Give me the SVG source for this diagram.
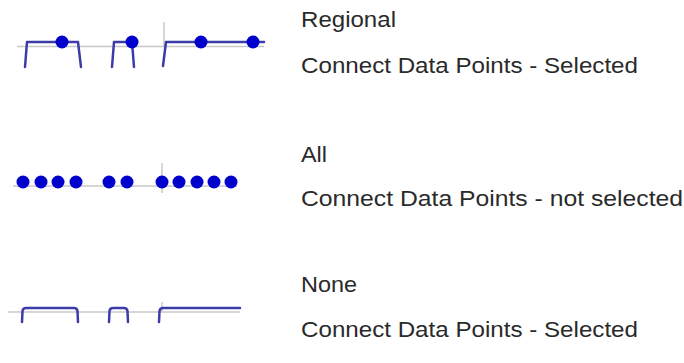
<svg xmlns="http://www.w3.org/2000/svg" width="684" height="363" viewBox="0 0 684 363">
<style>
.axis{stroke:#c8c8c8;stroke-width:1.5;fill:none}
.ln{stroke:#3c3ca8;stroke-width:2.5;fill:none;stroke-linejoin:round;stroke-linecap:round}
.dot{fill:#0000cc}
.t{font-family:"Liberation Sans",Arial,sans-serif;font-size:22.5px;fill:#2a2a2a}
</style>
<rect width="684" height="363" fill="#ffffff"/>
<g id="regional">
<line class="axis" x1="17" y1="46.5" x2="264" y2="46.5"/>
<line class="axis" x1="164" y1="22" x2="164" y2="47"/>
<path class="ln" d="M25,67 L27,42 L78,42 L81,67"/>
<path class="ln" d="M112,67 L114,42 L132,42 L134,67"/>
<path class="ln" d="M163,66 L166,42 L264,42"/>
<circle class="dot" cx="62" cy="42" r="6.5"/>
<circle class="dot" cx="132" cy="42" r="6.5"/>
<circle class="dot" cx="201" cy="42" r="6.5"/>
<circle class="dot" cx="253" cy="42" r="6.5"/>
<text class="t" x="301" y="27" textLength="95" lengthAdjust="spacingAndGlyphs">Regional</text>
<text class="t" x="301" y="72.5" textLength="337" lengthAdjust="spacingAndGlyphs">Connect Data Points - Selected</text>
</g>
<g id="all">
<line class="axis" x1="13" y1="186" x2="237" y2="186"/>
<line class="axis" x1="162" y1="163" x2="162" y2="193"/>
<circle class="dot" cx="23" cy="182" r="6.5"/>
<circle class="dot" cx="41" cy="182" r="6.5"/>
<circle class="dot" cx="58" cy="182" r="6.5"/>
<circle class="dot" cx="76" cy="182" r="6.5"/>
<circle class="dot" cx="109" cy="182" r="6.5"/>
<circle class="dot" cx="127" cy="182" r="6.5"/>
<circle class="dot" cx="162" cy="182" r="6.5"/>
<circle class="dot" cx="179" cy="182" r="6.5"/>
<circle class="dot" cx="197" cy="182" r="6.5"/>
<circle class="dot" cx="214" cy="182" r="6.5"/>
<circle class="dot" cx="231" cy="182" r="6.5"/>
<text class="t" x="301" y="162" textLength="26" lengthAdjust="spacingAndGlyphs">All</text>
<text class="t" x="301" y="206" textLength="382" lengthAdjust="spacingAndGlyphs">Connect Data Points - not selected</text>
</g>
<g id="none">
<line class="axis" x1="8" y1="312" x2="240" y2="312"/>
<line class="axis" x1="162" y1="302" x2="162" y2="312"/>
<path class="ln" d="M22,322 L22.5,311 Q23,308 26,308 L74,308 Q77,308 77.5,311 L78,322"/>
<path class="ln" d="M109,322 L109.5,311 Q110,308 113,308 L124,308 Q127,308 127.5,311 L128,322"/>
<path class="ln" d="M159,322 L159.5,311 Q160,308 163,308 L240,308"/>
<text class="t" x="301" y="291.5" textLength="56" lengthAdjust="spacingAndGlyphs">None</text>
<text class="t" x="301" y="336.5" textLength="337" lengthAdjust="spacingAndGlyphs">Connect Data Points - Selected</text>
</g>
<g id="connectors"/>
</svg>
